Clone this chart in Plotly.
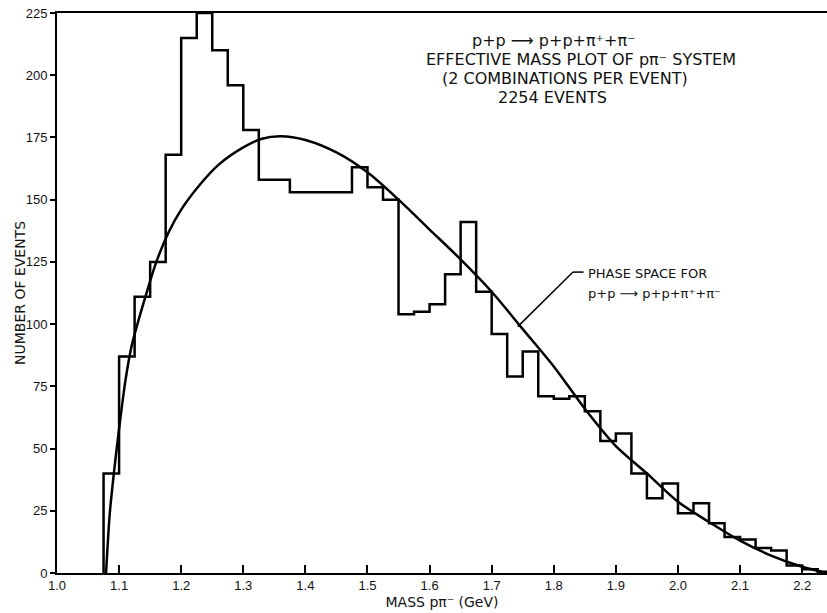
import plotly.graph_objects as go

# ---- data ----
bin_start = 1.075
bin_width = 0.025
counts = [40, 87, 111, 125, 168, 215, 225, 210, 196, 178,
          158, 158, 153, 153, 153, 153, 163, 155, 150, 104,
          105, 108, 120, 141, 113, 96, 79, 89, 71, 70,
          71, 65, 53, 56, 40, 30, 36, 24, 28, 20,
          14.5, 13.5, 10, 9, 3, 1.5, 0.5]

ps_mass = [1.079, 1.085, 1.092, 1.10, 1.11, 1.12, 1.14, 1.16, 1.18, 1.20,
           1.23, 1.26, 1.30, 1.33, 1.36, 1.40, 1.45, 1.50, 1.55, 1.60,
           1.65, 1.70, 1.75, 1.80, 1.85, 1.90, 1.95, 2.00, 2.05, 2.10,
           2.15, 2.20, 2.24]
ps_value = [0, 24, 41, 58, 77, 91, 109, 125, 137, 146,
            156, 164, 171, 174.5, 175.5, 174, 169, 161, 150, 138,
            126, 113, 98, 83, 66, 51, 40, 28.6, 20.5, 13,
            7, 2.5, 0]

x_ticks = [1.0, 1.1, 1.2, 1.3, 1.4, 1.5, 1.6, 1.7, 1.8, 1.9, 2.0, 2.1, 2.2]
x_ticklabels = ["1.0", "1.1", "1.2", "1.3", "1.4", "1.5", "1.6", "1.7", "1.8", "1.9", "2.0", "2.1", "2.2"]
y_ticks = [0, 25, 50, 75, 100, 125, 150, 175, 200, 225]

# ---- build step histogram ----
edges = [bin_start + i * bin_width for i in range(len(counts) + 1)]
hx = [edges[0]] + edges
hy = [0] + counts + [counts[-1]]

FONT = "Liberation Sans"
TFONT = "DejaVu Sans"
INK = "#111111"

fig = go.Figure()
fig.add_trace(go.Scatter(x=hx, y=hy, mode="lines", line=dict(color="black", width=2.5, shape="hv"),
                         hoverinfo="skip", showlegend=False))
fig.add_trace(go.Scatter(x=ps_mass, y=ps_value, mode="lines",
                         line=dict(color="black", width=2.5, shape="spline", smoothing=0.8),
                         hoverinfo="skip", showlegend=False))

fig.update_layout(
    width=827, height=613,
    margin=dict(l=57, r=0, t=13, b=40),
    paper_bgcolor="white", plot_bgcolor="white",
    font=dict(family=FONT, color=INK, size=13),
    xaxis=dict(range=[1.0, 2.24], tickvals=x_ticks, ticktext=x_ticklabels,
               ticks="inside", ticklen=8, tickwidth=1.5, tickcolor="black",
               showline=True, linecolor="black", linewidth=1.5, mirror=True,
               showgrid=False, zeroline=False,
               tickfont=dict(size=13, family=FONT, color=INK),
               title=dict(text="MASS pπ⁻ (GeV)", font=dict(size=14, family=TFONT, color=INK), standoff=5)),
    yaxis=dict(range=[0, 225], tickvals=y_ticks,
               ticks="outside", ticklen=5, tickwidth=1.5, tickcolor="black",
               showline=True, linecolor="black", linewidth=1.8,
               showgrid=False, zeroline=False,
               tickfont=dict(size=13, family=FONT, color=INK)),
)

def px(xp):
    return (xp - 57) / 770.0

def py(yp):
    return (573 - yp) / 560.0

# y-axis title
fig.add_annotation(text="NUMBER OF EVENTS", xref="paper", yref="paper", x=px(20), y=py(293),
                   xanchor="center", yanchor="middle", textangle=-90, showarrow=False,
                   font=dict(size=14, family=TFONT, color=INK))

top_lines = [("p+p ⟶ p+p+π⁺+π⁻", 554, 40, 16),
             ("EFFECTIVE MASS PLOT OF pπ⁻ SYSTEM", 581, 59, 16),
             ("(2 COMBINATIONS PER EVENT)", 565, 78, 16),
             ("2254 EVENTS", 552, 97, 16)]
for txt, cx, cy, fs in top_lines:
    fig.add_annotation(text=txt, xref="paper", yref="paper", x=px(cx), y=py(cy),
                       xanchor="center", yanchor="middle", showarrow=False,
                       font=dict(size=fs, family=TFONT, color=INK))

fig.add_annotation(text="PHASE SPACE FOR", xref="paper", yref="paper", x=px(586), y=py(273),
                   xanchor="left", yanchor="middle", showarrow=False,
                   font=dict(size=13, family=TFONT, color=INK))
fig.add_annotation(text="p+p ⟶ p+p+π⁺+π⁻", xref="paper", yref="paper", x=px(586), y=py(293),
                   xanchor="left", yanchor="middle", showarrow=False,
                   font=dict(size=13, family=TFONT, color=INK))

# leader line from label to curve
fig.add_shape(type="line", xref="x", yref="y", x0=1.742, y0=99, x1=1.831, y1=120.9,
              line=dict(color="black", width=1.5))
fig.add_shape(type="line", xref="x", yref="y", x0=1.831, y0=120.9, x1=1.848, y1=120.9,
              line=dict(color="black", width=1.5))

fig.write_html("out.html")
